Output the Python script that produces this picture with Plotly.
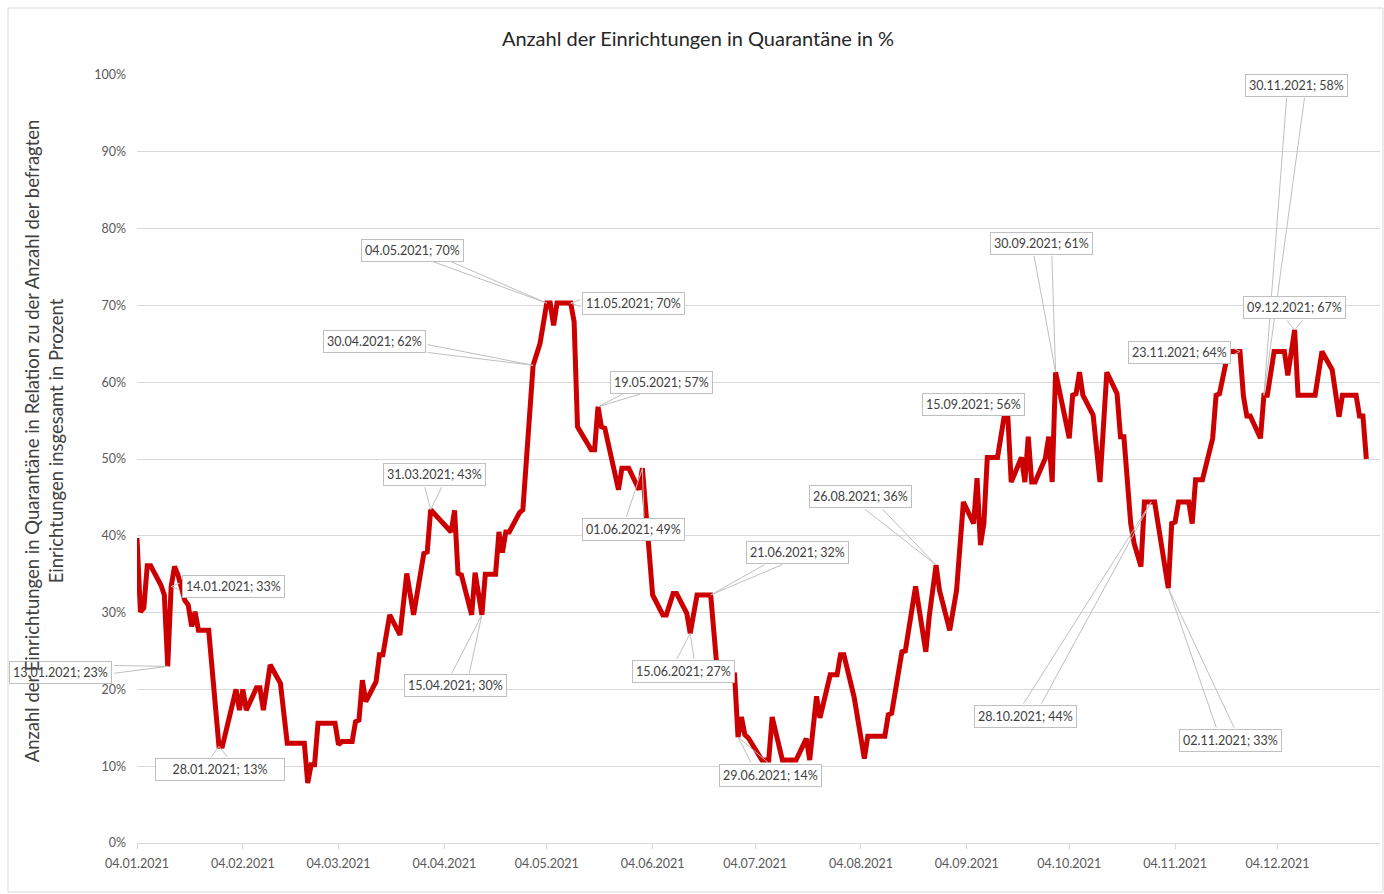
import plotly.graph_objects as go

# ---------------- data ----------------
dates = [
    "2021-01-04", "2021-01-05", "2021-01-06", "2021-01-07", "2021-01-08", "2021-01-11", "2021-01-12",
    "2021-01-13", "2021-01-14", "2021-01-15", "2021-01-16", "2021-01-18", "2021-01-19", "2021-01-20",
    "2021-01-21", "2021-01-22", "2021-01-25", "2021-01-28", "2021-01-29", "2021-02-02", "2021-02-03",
    "2021-02-04", "2021-02-05", "2021-02-08", "2021-02-09", "2021-02-10", "2021-02-12", "2021-02-15",
    "2021-02-17", "2021-02-22", "2021-02-23", "2021-02-24", "2021-02-25", "2021-02-26", "2021-03-03",
    "2021-03-04", "2021-03-05", "2021-03-08", "2021-03-09", "2021-03-10", "2021-03-11", "2021-03-12",
    "2021-03-15", "2021-03-16", "2021-03-17", "2021-03-19", "2021-03-22", "2021-03-24", "2021-03-26",
    "2021-03-29", "2021-03-30", "2021-03-31", "2021-04-06", "2021-04-07", "2021-04-08", "2021-04-09",
    "2021-04-12", "2021-04-13", "2021-04-15", "2021-04-16", "2021-04-19", "2021-04-20", "2021-04-21",
    "2021-04-22", "2021-04-23", "2021-04-26", "2021-04-27", "2021-04-30", "2021-05-02", "2021-05-04",
    "2021-05-05", "2021-05-06", "2021-05-07", "2021-05-11", "2021-05-12", "2021-05-13", "2021-05-17",
    "2021-05-18", "2021-05-19", "2021-05-20", "2021-05-21", "2021-05-25", "2021-05-26", "2021-05-28",
    "2021-05-31", "2021-06-01", "2021-06-04", "2021-06-07", "2021-06-08", "2021-06-10", "2021-06-11",
    "2021-06-14", "2021-06-15", "2021-06-17", "2021-06-21", "2021-06-23", "2021-06-28", "2021-06-29",
    "2021-06-30", "2021-07-01", "2021-07-02", "2021-07-06", "2021-07-08", "2021-07-09", "2021-07-12",
    "2021-07-16", "2021-07-19", "2021-07-20", "2021-07-22", "2021-07-23", "2021-07-26", "2021-07-28",
    "2021-07-29", "2021-07-30", "2021-08-02", "2021-08-05", "2021-08-06", "2021-08-11", "2021-08-12",
    "2021-08-13", "2021-08-16", "2021-08-17", "2021-08-20", "2021-08-23", "2021-08-24", "2021-08-26",
    "2021-08-27", "2021-08-30", "2021-09-01", "2021-09-03", "2021-09-06", "2021-09-07", "2021-09-08",
    "2021-09-09", "2021-09-10", "2021-09-13", "2021-09-15", "2021-09-16", "2021-09-17", "2021-09-20",
    "2021-09-21", "2021-09-22", "2021-09-23", "2021-09-24", "2021-09-27", "2021-09-28", "2021-09-29",
    "2021-09-30", "2021-10-04", "2021-10-05", "2021-10-06", "2021-10-07", "2021-10-08", "2021-10-11",
    "2021-10-13", "2021-10-15", "2021-10-18", "2021-10-19", "2021-10-20", "2021-10-22", "2021-10-23",
    "2021-10-25", "2021-10-26", "2021-10-28", "2021-10-29", "2021-11-02", "2021-11-03", "2021-11-04",
    "2021-11-05", "2021-11-08", "2021-11-09", "2021-11-10", "2021-11-12", "2021-11-15", "2021-11-16",
    "2021-11-17", "2021-11-19", "2021-11-20", "2021-11-23", "2021-11-24", "2021-11-25", "2021-11-26",
    "2021-11-29", "2021-11-30", "2021-12-01", "2021-12-03", "2021-12-06", "2021-12-07", "2021-12-09",
    "2021-12-10", "2021-12-15", "2021-12-17", "2021-12-20", "2021-12-22", "2021-12-23", "2021-12-27",
    "2021-12-28", "2021-12-29", "2021-12-30",
]
values = [
    39.7, 30.1, 30.6, 36.1, 36.1, 33.6, 32.3,
    23.0, 33.4, 36.0, 34.9, 31.6, 31.0, 28.2,
    30.1, 27.7, 27.7, 12.6, 12.6, 20.0, 17.3,
    20.0, 17.3, 20.2, 20.2, 17.3, 23.2, 20.8,
    13.0, 13.0, 7.8, 10.2, 10.2, 15.6, 15.6,
    12.8, 13.2, 13.2, 15.8, 16.0, 21.2, 18.4,
    21.0, 24.5, 24.5, 29.7, 27.1, 35.1, 29.7,
    37.7, 37.9, 43.4, 40.5, 43.3, 35.1, 34.9,
    29.7, 35.2, 29.7, 35.0, 35.0, 40.5, 37.8,
    40.5, 40.5, 43.0, 43.4, 62.2, 65.0, 70.3,
    70.3, 67.4, 70.3, 70.3, 67.9, 54.2, 51.2,
    51.2, 56.8, 54.2, 54.0, 46.0, 48.8, 48.8,
    46.0, 48.8, 32.3, 29.7, 29.7, 32.5, 32.5,
    29.9, 27.3, 32.3, 32.3, 22.0, 21.9, 13.8,
    16.4, 14.1, 13.7, 10.8, 10.8, 16.4, 10.8,
    10.8, 13.6, 10.8, 19.1, 16.3, 21.9, 21.9,
    24.5, 24.5, 19.0, 11.0, 13.9, 13.9, 16.7,
    16.9, 24.9, 25.0, 33.4, 24.9, 29.5, 36.2,
    32.9, 27.7, 32.9, 44.4, 41.6, 47.5, 38.8,
    41.6, 50.2, 50.2, 55.7, 55.7, 47.0, 50.2,
    47.0, 52.9, 47.0, 47.0, 50.1, 52.9, 47.0,
    61.3, 52.7, 58.3, 58.5, 61.3, 58.3, 55.7,
    47.0, 61.3, 58.5, 52.9, 52.9, 41.6, 39.0,
    36.0, 44.4, 44.4, 44.4, 33.2, 41.6, 41.8,
    44.4, 44.4, 41.6, 47.3, 47.3, 52.7, 58.3,
    58.5, 62.8, 64.0, 64.0, 58.2, 55.6, 55.6,
    52.7, 58.3, 58.3, 64.0, 64.0, 60.9, 66.8,
    58.3, 58.3, 64.0, 61.6, 55.5, 58.3, 58.3,
    55.6, 55.6, 50.0,
]

tick_dates = ["2021-01-04", "2021-02-04", "2021-03-04", "2021-04-04", "2021-05-04", "2021-06-04",
              "2021-07-04", "2021-08-04", "2021-09-04", "2021-10-04", "2021-11-04", "2021-12-04"]
tick_labels = ["04.01.2021", "04.02.2021", "04.03.2021", "04.04.2021", "04.05.2021", "04.06.2021",
               "04.07.2021", "04.08.2021", "04.09.2021", "04.10.2021", "04.11.2021", "04.12.2021"]
y_ticks = [0, 10, 20, 30, 40, 50, 60, 70, 80, 90, 100]
y_tick_labels = ["0%", "10%", "20%", "30%", "40%", "50%", "60%", "70%", "80%", "90%", "100%"]

label_dates = ["2021-01-13", "2021-01-14", "2021-01-28", "2021-03-31", "2021-04-15", "2021-04-30",
               "2021-05-04", "2021-05-11", "2021-05-19", "2021-06-01", "2021-06-15", "2021-06-21",
               "2021-06-29", "2021-08-26", "2021-09-15", "2021-09-30", "2021-10-28", "2021-11-02",
               "2021-11-23", "2021-11-30", "2021-12-09"]

# ---------------- style / layout (pixel offsets of callout boxes) ----------------
label_offsets = [(-107, 6), (62, 0), (1, 23), (4, -35), (-26, 71), (-159, -24),
                 (-134, -53), (63, 0), (63, -24), (-9, 61), (-7, 38), (87, -42),
                 (32, 38), (-76, -68), (-31, -11), (-14, -129), (-126, 214), (62, 152),
                 (-60, 1), (33, -310), (0, -22)]
label_box_widths = {"2021-01-28": 122}

FONT = "Lato, 'Open Sans', sans-serif"
W, H = 1384, 894
L, R, T, B = 137, 4, 75, 51
GRID = "#d9d9d9"
CALLOUT = "#bfbfbf"

fig = go.Figure()
fig.add_trace(go.Scatter(
    x=dates, y=values, mode="lines",
    line=dict(color="#cc0000", width=5),
    hoverinfo="skip", showlegend=False,
))

lookup = dict(zip(dates, values))
HW, HH, WW = 52, 11, 9
arrow_anns, box_anns = [], []
for d, (dx, dy) in zip(label_dates, label_offsets):
    v = lookup[d]
    yy, mm, dd = d.split("-")
    text = f"{dd}.{mm}.{yy}; {int(v + 0.5)}%"
    vx, vy = -dx, -dy
    if abs(dy) * HW >= abs(dx) * HH:
        by = dy + (HH if vy > 0 else -HH)
        t = HH / abs(dy) if dy else 0
        bx = dx + vx * t
        bx = max(dx - HW + WW, min(dx + HW - WW, bx))
        bases = [(bx - WW, by), (bx + WW, by)]
    else:
        bx = dx + (HW if vx > 0 else -HW)
        t = HW / abs(dx)
        by = dy + vy * t
        by = max(dy - HH + 4, min(dy + HH - 4, by))
        bases = [(bx, by - 4), (bx, by + 4)]
    for ax, ay in bases:
        arrow_anns.append(dict(
            x=d, y=v, xref="x", yref="y", text="", showarrow=True,
            arrowhead=0, arrowwidth=1, arrowcolor=CALLOUT,
            ax=ax, ay=ay, standoff=0, startstandoff=0,
        ))
    box = dict(
        x=d, y=v, xref="x", yref="y", text=text, showarrow=False,
        xshift=dx, yshift=-dy, bgcolor="white", bordercolor=CALLOUT,
        borderwidth=1, borderpad=3,
        font=dict(family=FONT, size=12.5, color="#404040"),
    )
    if d in label_box_widths:
        box["width"] = label_box_widths[d]
    box_anns.append(box)

yaxis_title = dict(
    text="Anzahl der Einrichtungen in Quarantäne in Relation zu der Anzahl der befragten<br>"
         "Einrichtungen insgesamt in Prozent",
    xref="paper", yref="paper", x=0, y=0.523, xshift=-93,
    textangle=-90, showarrow=False, xanchor="center", yanchor="middle",
    font=dict(family=FONT, size=18.5, color="#404040"),
)

plot_w = W - L - R
plot_h = H - T - B
border = dict(
    type="rect", xref="paper", yref="paper",
    x0=(8 - L) / plot_w, x1=(W - 1 - L) / plot_w,
    y0=-(H - 2 - (H - B)) / plot_h, y1=1 + (T - 8) / plot_h,
    line=dict(color=GRID, width=1), layer="below",
)

fig.update_layout(
    width=W, height=H,
    margin=dict(l=L, r=R, t=T, b=B),
    paper_bgcolor="white", plot_bgcolor="white",
    title=dict(text="Anzahl der Einrichtungen in Quarantäne in %",
               x=698 / W, xref="container", xanchor="center",
               y=1 - 39 / H, yref="container", yanchor="middle",
               font=dict(family=FONT, size=20, color="#262626")),
    xaxis=dict(
        type="date", range=["2021-01-04", "2022-01-03"],
        tickvals=tick_dates, ticktext=tick_labels,
        showgrid=False, zeroline=False,
        showline=True, linecolor=GRID, linewidth=1,
        ticks="outside", ticklen=5, tickcolor=GRID,
        ticklabelstandoff=4,
        tickfont=dict(family=FONT, size=12.5, color="#595959"),
    ),
    yaxis=dict(
        range=[0, 100], tickvals=y_ticks, ticktext=y_tick_labels,
        showgrid=True, gridcolor=GRID, gridwidth=1,
        zeroline=False, showline=False, ticks="",
        ticklabelstandoff=10,
        tickfont=dict(family=FONT, size=12.5, color="#595959"),
    ),
    annotations=arrow_anns + box_anns + [yaxis_title],
    shapes=[border],
    showlegend=False,
)

fig.write_html("out.html")
